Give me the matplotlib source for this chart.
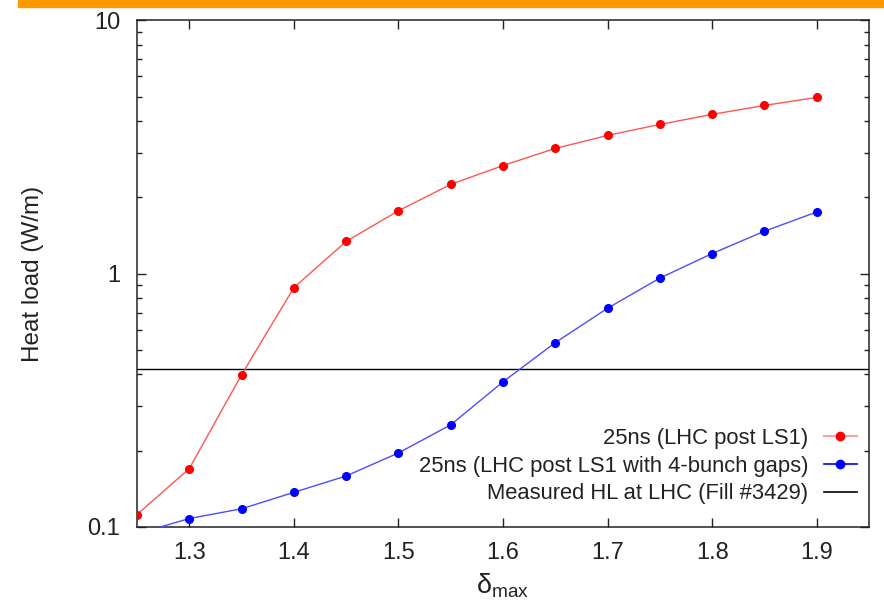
import matplotlib
matplotlib.use("Agg")
import matplotlib.pyplot as plt
from matplotlib.patches import Rectangle

plt.rcParams["font.family"] = ["Liberation Sans", "DejaVu Sans"]
plt.rcParams["mathtext.fontset"] = "custom"
plt.rcParams["mathtext.rm"] = "Liberation Sans"
plt.rcParams["mathtext.it"] = "Liberation Sans:italic"

# delta_max values (scan)
delta_max = [1.25, 1.30, 1.35, 1.40, 1.45, 1.50, 1.55, 1.60, 1.65, 1.70, 1.75, 1.80, 1.85, 1.90]

# heat load (W/m)
hl_post_ls1 = [0.112, 0.170, 0.399, 0.88, 1.34, 1.77, 2.25, 2.67, 3.12, 3.51, 3.88, 4.25, 4.61, 4.96]
hl_4bunch_gaps = [0.094, 0.108, 0.118, 0.137, 0.159, 0.196, 0.253, 0.374, 0.534, 0.73, 0.96, 1.20, 1.47, 1.75]

measured_hl = 0.42
x_ticks = [1.3, 1.4, 1.5, 1.6, 1.7, 1.8, 1.9]

txt = "#222222"

fig = plt.figure(figsize=(8.84, 6.13), dpi=100)
ax = fig.add_axes([0.155, 0.1403, 0.828, 0.8267])

# orange slide banner at the top
fig.patches.append(Rectangle((0.02, 0.988), 0.98, 0.012, transform=fig.transFigure,
                             color="#ff9900", zorder=0))

ax.plot(delta_max, hl_post_ls1, "-", color="#ff5555", lw=1.0, zorder=3)
ax.plot(delta_max, hl_post_ls1, "o", color="red", ms=5.5, zorder=4)
ax.plot(delta_max, hl_4bunch_gaps, "-", color="#4d4dff", lw=1.0, zorder=3)
ax.plot(delta_max, hl_4bunch_gaps, "o", color="blue", ms=5.5, zorder=4)
ax.axhline(measured_hl, color="black", lw=1.0, zorder=2)

# legend proxies (gnuplot style: text first, sample after)
h1, = ax.plot([], [], "-o", color="#ffa0a0", mfc="red", mec="red", ms=6, lw=1.5)
h2, = ax.plot([], [], "-o", color="blue", mfc="blue", mec="blue", ms=6, lw=1.2)
h3, = ax.plot([], [], "-", color="black", lw=1.2)
ax.legend([h1, h2, h3],
          ["25ns (LHC post LS1)",
           "25ns (LHC post LS1 with 4-bunch gaps)",
           "Measured HL at LHC (Fill #3429)"],
          loc="lower right", bbox_to_anchor=(1.01, 0.006), frameon=False,
          markerfirst=False, fontsize=15.8, handlelength=1.5,
          handletextpad=0.7, labelspacing=0.3, labelcolor=txt)

ax.set_yscale("log")
ax.set_ylim(0.1, 10)
ax.set_xlim(1.25, 1.95)
ax.set_xticks(x_ticks)
ax.set_xticklabels([f"{t:.1f}" for t in x_ticks])
ax.set_yticks([0.1, 1, 10])
ax.set_yticklabels(["0.1", "1", "10"])

ax.tick_params(which="both", direction="in", top=True, right=True, width=1.0,
               colors=txt, labelsize=17)
ax.tick_params(which="major", length=6.5)
ax.tick_params(which="minor", length=3.3)
ax.tick_params(axis="x", which="minor", bottom=False, top=False)
ax.tick_params(axis="x", pad=11)
ax.tick_params(axis="y", pad=12)
for s in ax.spines.values():
    s.set_linewidth(1.1)
    s.set_color(txt)

ax.set_ylabel("Heat load (W/m)", fontsize=17.5, color=txt)
ax.yaxis.set_label_coords(-0.127, 0.5)
ax.set_xlabel(r"$\mathregular{\delta_{max}}$", fontsize=19.5, color=txt, labelpad=5)

fig.savefig("out.png", dpi=100)
